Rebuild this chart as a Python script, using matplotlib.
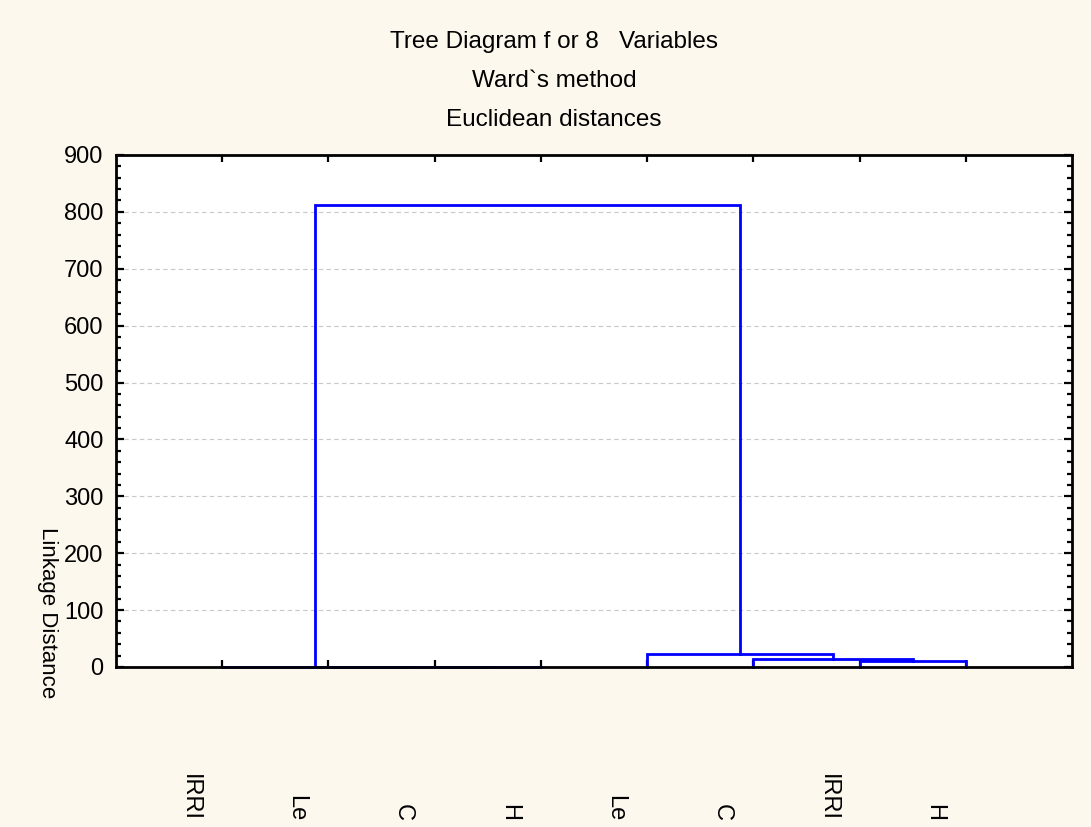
import matplotlib.pyplot as plt
from matplotlib.ticker import MultipleLocator
from matplotlib.transforms import blended_transform_factory

# Leaf labels (as visible, left to right)
leaf_labels = ['IRRI', 'Le', 'C', 'H', 'Le', 'C', 'IRRI', 'H']

# Merge steps: (child_a, child_b, linkage distance); new clusters get ids 8, 9, ...
merge_a = [2, 1, 0, 6, 5, 4, 10]
merge_b = [3, 8, 9, 7, 11, 12, 13]
merge_h = [0.3, 0.5, 0.8, 11.0, 13.5, 22.3, 812.0]

title_lines = ['Tree Diagram f or 8   Variables', 'Ward`s method', 'Euclidean distances']

plt.rcParams['font.family'] = ['Liberation Sans', 'DejaVu Sans']

fig = plt.figure(figsize=(10.91, 8.27), dpi=100)
fig.patch.set_facecolor('#fdf8ee')
ax = fig.add_axes([0.1063, 0.1935, 0.8763, 0.6191])
ax.set_facecolor('white')

# Positions and heights of every node
pos = {i: i + 1.0 for i in range(len(leaf_labels))}
hgt = {i: 0.0 for i in range(len(leaf_labels))}
node = len(leaf_labels)
for a, b, h in zip(merge_a, merge_b, merge_h):
    xa, xb = pos[a], pos[b]
    ax.plot([xa, xa, xb, xb], [hgt[a], h, h, hgt[b]], color='#0000ff', lw=2.0,
            solid_joinstyle='miter', zorder=2, clip_on=False)
    pos[node] = (xa + xb) / 2
    hgt[node] = h
    node += 1

ax.set_xlim(0, len(leaf_labels) + 1)
ax.set_ylim(0, 900)
ax.set_xticks(range(1, len(leaf_labels) + 1))
ax.set_xticklabels([])
ax.yaxis.set_major_locator(MultipleLocator(100))
ax.yaxis.set_minor_locator(MultipleLocator(20))
ax.tick_params(axis='both', which='both', direction='in', top=True, right=True,
               width=1.6, color='black')
ax.tick_params(axis='x', which='major', length=5)
ax.tick_params(axis='y', which='major', length=6, labelsize=17, pad=9)
ax.tick_params(axis='y', which='minor', length=3.5)
ax.tick_params(axis='x', which='minor', bottom=False, top=False)
for s in ax.spines.values():
    s.set_linewidth(2.0)
    s.set_zorder(3)

for yv in range(100, 900, 100):
    ax.axhline(yv, color='#c8c8c8', lw=0.8, ls=(0, (4, 3)), zorder=1)

ax.set_ylabel('Linkage Distance', fontsize=16, rotation=270, labelpad=0)
ax.yaxis.set_label_coords(-0.072, 0.107, transform=ax.transAxes)
ax.yaxis.label.set_va('center')

# Leaf labels sit far below the axis, near the bottom edge
label_tr = blended_transform_factory(ax.transData, fig.transFigure)
for i, lab in enumerate(leaf_labels):
    ax.text(i + 1 - 0.3, 0.007, lab, rotation=270, ha='center', va='bottom',
            fontsize=17, clip_on=False, transform=label_tr)

for k, line in enumerate(title_lines):
    fig.text(0.508, 1 - (42 + 39 * k) / 827, line, ha='center', va='center', fontsize=17.5)

fig.savefig('out.png', dpi=100, facecolor=fig.get_facecolor())
